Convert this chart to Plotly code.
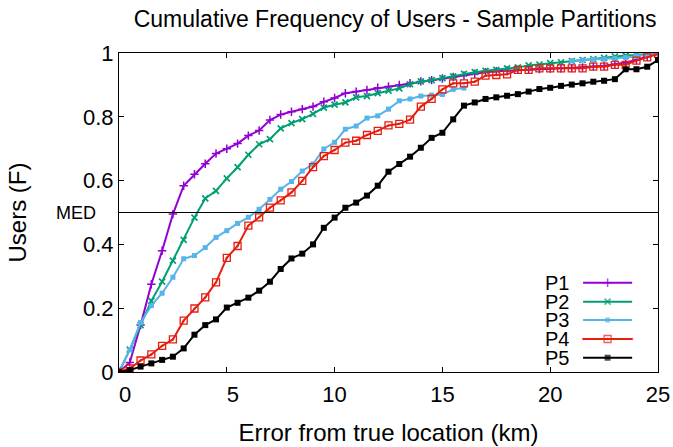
import plotly.graph_objects as go

# ---------------- data ----------------
error_km = [i * 0.5 for i in range(51)]

p1 = [0.0, 0.03, 0.147, 0.275, 0.38, 0.495, 0.584, 0.62, 0.653, 0.685,
      0.70, 0.716, 0.741, 0.757, 0.79, 0.807, 0.816, 0.824, 0.832, 0.847,
      0.859, 0.874, 0.879, 0.884, 0.891, 0.895, 0.90, 0.905, 0.911, 0.915,
      0.92, 0.925, 0.93, 0.935, 0.94, 0.943, 0.945, 0.947, 0.948, 0.95,
      0.951, 0.952, 0.953, 0.955, 0.958, 0.96, 0.965, 0.97, 0.978, 0.988, 1.0]

p2 = [0.0, 0.07, 0.147, 0.223, 0.283, 0.349, 0.414, 0.484, 0.544, 0.568,
      0.607, 0.642, 0.681, 0.714, 0.73, 0.764, 0.78, 0.793, 0.809, 0.829,
      0.838, 0.845, 0.861, 0.865, 0.874, 0.882, 0.889, 0.902, 0.911, 0.915,
      0.921, 0.927, 0.935, 0.94, 0.944, 0.947, 0.952, 0.955, 0.961, 0.964,
      0.968, 0.971, 0.975, 0.978, 0.981, 0.985, 0.989, 0.992, 0.994, 0.997, 1.0]

p3 = [0.0, 0.07, 0.155, 0.208, 0.247, 0.297, 0.355, 0.365, 0.39, 0.422,
      0.443, 0.466, 0.485, 0.51, 0.541, 0.573, 0.597, 0.63, 0.652, 0.699,
      0.72, 0.761, 0.771, 0.796, 0.803, 0.824, 0.85, 0.856, 0.865, 0.868,
      0.87, 0.886, 0.89, None, None, None, None, None, None, None,
      None, None, 0.976, 0.978, 0.98, 0.981, 0.983, 0.986, 0.99, 0.995, 1.0]

p4 = [0.0, 0.011, 0.036, 0.055, 0.082, 0.102, 0.161, 0.199, 0.234, 0.281,
      0.358, 0.395, 0.459, 0.485, 0.515, 0.538, 0.563, 0.599, 0.642, 0.677,
      0.696, 0.719, 0.725, 0.743, 0.756, 0.773, 0.778, 0.791, 0.832, 0.856,
      0.886, 0.905, 0.905, 0.91, 0.929, 0.931, 0.933, 0.947, 0.947, 0.952,
      0.952, 0.952, 0.952, 0.952, 0.957, 0.957, 0.963, 0.963, 0.976, 0.986, 0.997]

p5 = [0.0, 0.006, 0.017, 0.027, 0.038, 0.048, 0.074, 0.117, 0.147, 0.165,
      0.202, 0.217, 0.233, 0.255, 0.283, 0.323, 0.356, 0.371, 0.40, 0.452,
      0.484, 0.515, 0.531, 0.553, 0.584, 0.628, 0.652, 0.675, 0.703, 0.734,
      0.75, 0.792, 0.835, 0.845, 0.856, 0.861, 0.866, 0.871, 0.879, 0.887,
      0.891, 0.897, 0.901, 0.905, 0.91, 0.913, 0.918, 0.949, 0.949, 0.957, 0.978]

series_names = ["P1", "P2", "P3", "P4", "P5"]
series_values = [p1, p2, p3, p4, p5]

x_tick_vals = [0, 5, 10, 15, 20, 25]
x_tick_text = ["\u20070", "\u20075", "10", "15", "20", "25"]
y_tick_vals = [0, 0.2, 0.4, 0.6, 0.8, 1.0]
y_tick_text = ["0", "0.2", "0.4", "0.6", "0.8", "1"]
median_level = 0.5
median_label = "MED"

# ---------------- styles ----------------
FONT = "Liberation Sans"
styles = [
    dict(color="#9400D3", symbol="cross-thin-open", size=6, lw=1.5, fill="#9400D3"),
    dict(color="#009E73", symbol="x-thin-open", size=6, lw=1.7, fill="#009E73"),
    dict(color="#56B4E9", symbol="square", size=5, lw=0, fill="#56B4E9"),
    dict(color="#E51E10", symbol="square-open-dot", size=7, lw=1.3, fill="#E51E10"),
    dict(color="#000000", symbol="square", size=6, lw=0, fill="#000000"),
]

fig = go.Figure()

for name, vals, st in zip(series_names, series_values, styles):
    fig.add_trace(go.Scatter(
        x=error_km, y=vals, mode="lines+markers", name=name,
        connectgaps=False,
        line=dict(color=st["color"], width=2),
        marker=dict(symbol=st["symbol"], size=st["size"], color=st["fill"],
                    line=dict(color=st["color"], width=st["lw"])),
        showlegend=False,
    ))

# custom legend (text left of sample, gnuplot style) on a hidden overlay axis
leg_x = [0.861, 0.9065, 0.952]
leg_rows = [0.280, 0.2204, 0.163, 0.1034, 0.0448]
for name, st, ry in zip(series_names, styles, leg_rows):
    fig.add_trace(go.Scatter(
        x=leg_x, y=[ry, ry, ry], xaxis="x2", yaxis="y2",
        mode="lines+markers", showlegend=False, hoverinfo="skip",
        line=dict(color=st["color"], width=2),
        marker=dict(symbol=st["symbol"], size=[0, st["size"], 0], color=st["fill"],
                    line=dict(color=st["color"], width=st["lw"])),
    ))
    fig.add_annotation(x=0.8386, y=ry, xref="paper", yref="paper",
                       text=name, showarrow=False, xanchor="right", yanchor="middle",
                       font=dict(family=FONT, size=20, color="black"))

# median line
fig.add_shape(type="line", xref="x", yref="y", x0=0, x1=25,
              y0=median_level, y1=median_level,
              line=dict(color="black", width=1))
fig.add_annotation(x=-0.080, y=median_level, xref="paper", yref="y",
                   text=median_label, showarrow=False, xanchor="center", yanchor="middle",
                   font=dict(family=FONT, size=18, color="black"))

axis_common = dict(showgrid=False, zeroline=False, showline=True, linecolor="black",
                   linewidth=1, mirror="ticks", ticks="inside", ticklen=5,
                   tickcolor="black", tickwidth=1, automargin=False,
                   tickfont=dict(family=FONT, size=22, color="black"))

fig.update_layout(
    width=673, height=447, autosize=False,
    margin=dict(l=119, r=15, t=53, b=75, pad=0, autoexpand=False),
    paper_bgcolor="white", plot_bgcolor="white",
    font=dict(family=FONT, color="black"),
    title=dict(text="Cumulative Frequency of Users - Sample Partitions",
               x=0.587, xanchor="center", y=0.958, yanchor="middle",
               font=dict(family=FONT, size=23, color="black")),
    xaxis=dict(range=[0, 25], tickvals=x_tick_vals, ticktext=x_tick_text,
               ticklabelstandoff=3,
               title=dict(text="Error from true location (km)",
                          font=dict(family=FONT, size=24, color="black"), standoff=17),
               **axis_common),
    yaxis=dict(range=[0, 1], tickvals=y_tick_vals, ticktext=y_tick_text,
               title=dict(text="Users (F)",
                          font=dict(family=FONT, size=24, color="black"), standoff=49),
               **axis_common),
    xaxis2=dict(overlaying="x", range=[0, 1], visible=False, fixedrange=True),
    yaxis2=dict(overlaying="y", range=[0, 1], visible=False, fixedrange=True),
)

fig.write_html("out.html")
